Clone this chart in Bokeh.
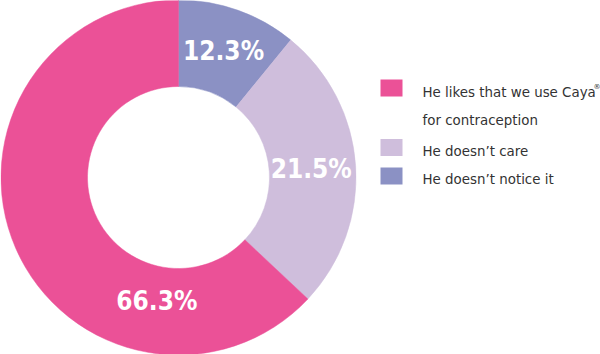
import numpy as np
from bokeh.plotting import figure
from bokeh.models import Range1d, ColumnDataSource
from bokeh.core.properties import value
from bokeh.embed import file_html
from bokeh.resources import INLINE

# ---- data ----
categories = ["He doesn\u2019t notice it", "He doesn\u2019t care", "He likes that we use Caya"]
pct_labels = ["12.3%", "21.5%", "66.3%"]
slice_shares = [10.9, 26.1, 63.0]          # slice sizes as drawn in the reference
colors = ["#8B91C4", "#CFBEDC", "#EB5197"]

legend_order = [2, 1, 0]                   # legend lists pink, light purple, blue

# ---- layout ----
W, H = 600, 354
cx, cy = 178, 177
r_out, r_in = 177.5, 91

p = figure(width=W, height=H, output_backend="svg", toolbar_location=None,
           x_range=Range1d(0, W), y_range=Range1d(0, H), min_border=0)
p.axis.visible = False
p.grid.visible = False
p.outline_line_color = None
p.background_fill_color = "white"
p.border_fill_color = "white"

shares = np.array(slice_shares, dtype=float)
frac = shares / shares.sum()
cum = np.concatenate([[0], np.cumsum(frac)])
start = np.deg2rad(90 - cum[:-1] * 360)
end = np.deg2rad(90 - cum[1:] * 360)

src = ColumnDataSource(dict(start=start, end=end, color=colors))
p.annular_wedge(x=cx, y=cy, inner_radius=r_in, outer_radius=r_out,
                start_angle="start", end_angle="end", direction="clock",
                fill_color="color", line_color="color", line_width=0.5, source=src)

# percentage labels
mid = (start + end) / 2
label_ang = mid.copy()
label_ang[2] = np.deg2rad(-100)
label_r = np.array([134, 133, 125])
lx = cx + label_r * np.cos(label_ang)
ly = cy + label_r * np.sin(label_ang)
p.text(x=lx, y=ly, text=pct_labels, text_align="center", text_baseline="middle",
       text_font=value("DejaVu Sans Condensed"), text_font_style="bold",
       text_font_size="26px", text_color="white")

# legend
FONT = value("DejaVu Sans")
FS = "13.4px"
sq_y = [H - 87.5, H - 147, H - 175.5]
txt_y = [H - 92, H - 151, H - 179]
for i, k in enumerate(legend_order):
    p.rect(x=391, y=sq_y[i], width=22, height=17, fill_color=colors[k], line_color=None)
    p.text(x=[422], y=[txt_y[i]], text=[categories[k]], text_align="left",
           text_baseline="alphabetic", text_font=FONT,
           text_font_size=FS, text_color="#333333")
p.text(x=[593], y=[H - 86], text=["\u00ae"], text_align="left", text_baseline="alphabetic",
       text_font=FONT, text_font_size="7px", text_color="#333333")
p.text(x=[422], y=[H - 120], text=["for contraception"], text_align="left",
       text_baseline="alphabetic", text_font=FONT,
       text_font_size=FS, text_color="#333333")

open("out.html", "w").write(file_html(p, INLINE))
